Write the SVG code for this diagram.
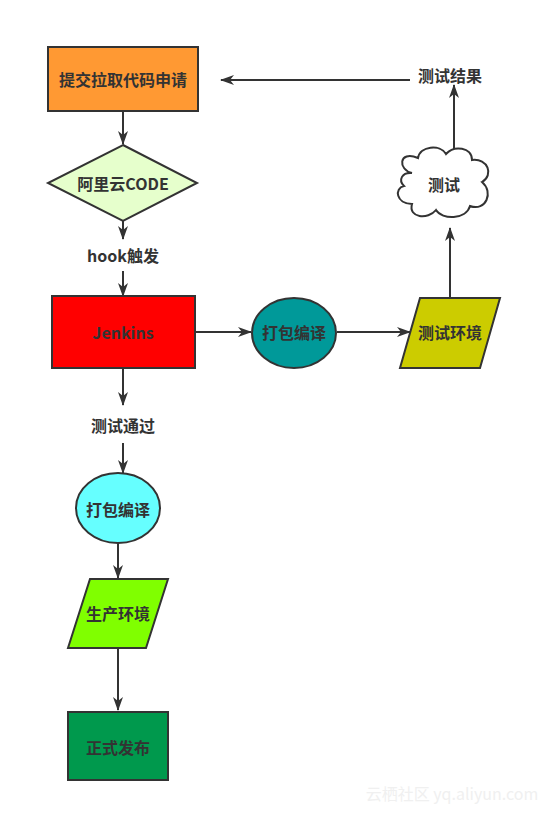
<svg xmlns="http://www.w3.org/2000/svg" width="554" height="814" viewBox="0 0 554 814">
<defs>
<marker id="ah" viewBox="0 0 14 10" refX="13" refY="5" markerWidth="14" markerHeight="10" markerUnits="userSpaceOnUse" orient="auto">
<path d="M0,0 L14,5 L0,10 L4,5 z" fill="#333"/>
</marker>
<style>
.n{stroke:#333;stroke-width:2}
.t{font-family:"Noto Sans CJK SC","Liberation Sans",sans-serif;font-weight:bold;font-size:16px;fill:#333;text-anchor:middle;dominant-baseline:central}
.c{fill:none;stroke:#333;stroke-width:2;marker-end:url(#ah)}
</style>
</defs>
<rect width="554" height="814" fill="#fff"/>
<g id="connectors">
<path class="c" d="M123,111 V144"/>
<path class="c" d="M123,221 V239"/>
<path class="c" d="M123,271 V296"/>
<path class="c" d="M195,332 H251"/>
<path class="c" d="M337,332 H410"/>
<path class="c" d="M450,298 V228"/>
<path class="c" d="M454,150 V85"/>
<path class="c" d="M410,80 H221"/>
<path class="c" d="M123,368 V405"/>
<path class="c" d="M123,443 V473"/>
<path class="c" d="M118,543 V578"/>
<path class="c" d="M118,648 V710"/>
</g>
<g id="n1"><rect class="n" x="48" y="47" width="150" height="64" fill="#ff9933"/><text class="t" x="123" y="79">提交拉取代码申请</text></g>
<g id="n2"><polygon class="n" points="123,145 197,183 123,221 48,183" fill="#e6ffcc"/><text class="t" x="123" y="183">阿里云CODE</text></g>
<g id="n3"><text class="t" x="123" y="255">hook触发</text></g>
<g id="n4"><rect class="n" x="52" y="296" width="143" height="72" fill="#ff0000"/><text class="t" x="123" y="332">Jenkins</text></g>
<g id="n5"><ellipse class="n" cx="294" cy="333" rx="42" ry="35" fill="#009999"/><text class="t" x="294" y="332">打包编译</text></g>
<g id="n6"><polygon class="n" points="420,298 500,298 480,368 400,368" fill="#cccc00"/><text class="t" x="450" y="332">测试环境</text></g>
<g id="n7"><path class="n" fill="#fff" d="M412,173 C398,170 398,150 418,158 C420,146 440,144 446,154 C454,145 472,147 472,160 C488,158 494,175 482,182 C494,192 486,212 470,206 C466,220 442,220 436,210 C428,220 408,218 412,204 C396,204 394,188 404,186 C398,180 402,172 412,173 Z"/><text class="t" x="444" y="184">测试</text></g>
<g id="n8"><text class="t" x="450" y="75">测试结果</text></g>
<g id="n9"><text class="t" x="123" y="425">测试通过</text></g>
<g id="n10"><ellipse class="n" cx="118" cy="508" rx="42" ry="35" fill="#66ffff"/><text class="t" x="118" y="509">打包编译</text></g>
<g id="n11"><polygon class="n" points="90,579 168,579 146,648 68,648" fill="#80ff00"/><text class="t" x="118" y="613">生产环境</text></g>
<g id="n12"><rect class="n" x="68" y="712" width="100" height="68" fill="#00994d"/><text class="t" x="118" y="747">正式发布</text></g>
<text x="452" y="800" font-family="Noto Sans CJK SC,Liberation Sans,sans-serif" font-size="16" fill="#f0f0f0" text-anchor="middle">云栖社区 yq.aliyun.com</text>
</svg>
